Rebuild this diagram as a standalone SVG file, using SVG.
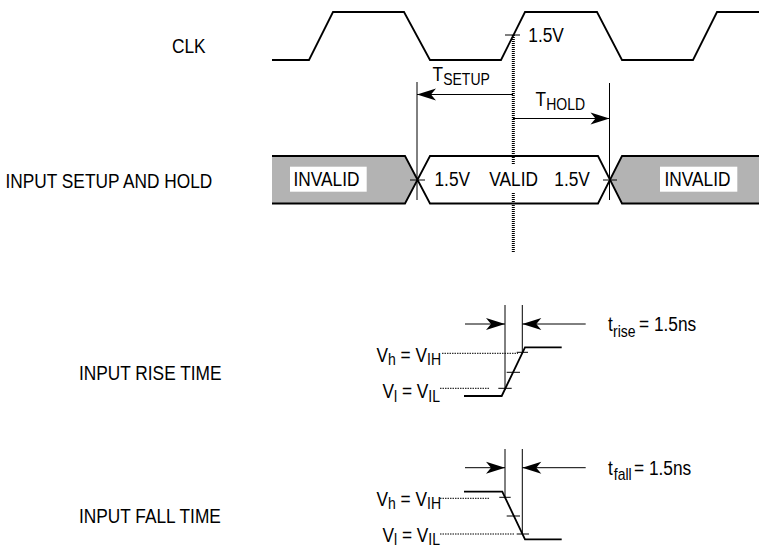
<svg xmlns="http://www.w3.org/2000/svg" width="759" height="549" viewBox="0 0 759 549">
<style>
text{font-family:"Liberation Sans",Arial,sans-serif;font-size:17.3px;fill:#000}
.sub{font-size:14px}
.wave{fill:none;stroke:#000;stroke-width:1.8;stroke-linejoin:miter}
.thin{fill:none;stroke:#000;stroke-width:1}
.dot{fill:none;stroke:#000;stroke-width:1;stroke-dasharray:1.5 1}
.vdot{fill:none;stroke:#000;stroke-width:3;stroke-dasharray:1 1}
.arr{fill:none;stroke:#000;stroke-width:1;marker-end:url(#ah)}
.inv{fill:#b3b3b3}
.bg{fill:#fff}
</style>
<defs>
<marker id="ah" viewBox="-20 -7 21 14" refX="0" refY="0" markerWidth="21" markerHeight="14" markerUnits="userSpaceOnUse" orient="auto">
<path d="M0,0 L-19,-6 L-14,0 L-19,6 Z" fill="#000"/>
</marker>
</defs>
<rect width="759" height="549" fill="#fff"/>

<g id="row-labels">
<text transform="translate(172,53.3) scale(1,1.15)">CLK</text>
<text transform="translate(5.5,188.3) scale(1,1.15)">INPUT SETUP AND HOLD</text>
<text transform="translate(79,380) scale(1,1.15)">INPUT RISE TIME</text>
<text transform="translate(79,523.3) scale(1,1.15)">INPUT FALL TIME</text>
</g>

<g id="clk">
<path class="wave" d="M272,60 H309 L333,12 H404 L430,60 H501 L525,12 H597 L622,60 H693 L717,12 H759"/>
<line class="thin" x1="505" y1="35" x2="520" y2="35"/>
<text transform="translate(528.3,41.7) scale(1,1.15)">1.5V</text>
</g>

<g id="bus">
<polygon class="inv" points="272,156 405,156 417.5,179.75 405,203.5 272,203.5"/>
<polygon class="inv" points="759,156 622,156 610,179.75 622,203.5 759,203.5"/>
<path class="wave" d="M272,156 H405 L430,203.5 H598 L622,156 H759 M272,203.5 H405 L430,156 H598 L622,203.5 H759"/>
<line class="thin" x1="410" y1="180" x2="425" y2="180"/>
<line class="thin" x1="603" y1="180" x2="617" y2="180"/>
</g>

<g id="connectors">
<line class="thin" x1="417" y1="82" x2="417" y2="200"/>
<line class="thin" x1="609.5" y1="83" x2="609.5" y2="200"/>
<line class="vdot" x1="513.3" y1="35" x2="513.3" y2="252"/>
<line class="arr" x1="513" y1="94.5" x2="417" y2="94.5"/>
<line class="arr" x1="513" y1="118.5" x2="609.5" y2="118.5"/>
<line class="thin" x1="505" y1="305" x2="505" y2="390"/>
<line class="thin" x1="522.3" y1="305" x2="522.3" y2="353"/>
<line class="arr" x1="465" y1="324" x2="505" y2="324"/>
<line class="arr" x1="585.7" y1="324" x2="522.3" y2="324"/>
<line class="dot" x1="442" y1="353.3" x2="518" y2="353.3"/>
<line class="dot" x1="440" y1="388.3" x2="490" y2="388.3"/>
<line class="thin" x1="505" y1="449" x2="505" y2="498.3"/>
<line class="thin" x1="522.3" y1="449" x2="522.3" y2="534"/>
<line class="arr" x1="465" y1="467.7" x2="505" y2="467.7"/>
<line class="arr" x1="585.7" y1="467.7" x2="522.3" y2="467.7"/>
<line class="dot" x1="440" y1="498.3" x2="489" y2="498.3"/>
<line class="dot" x1="440" y1="534" x2="514" y2="534"/>
</g>

<g id="bus-labels">
<rect class="bg" x="290" y="166.7" width="76.7" height="25"/>
<text transform="translate(293.5,185.7) scale(1,1.15)">INVALID</text>
<rect class="bg" x="660" y="166.7" width="77.3" height="25"/>
<text transform="translate(664.5,185.7) scale(1,1.15)">INVALID</text>
<rect class="bg" x="487" y="165" width="52" height="27"/>
<text transform="translate(434.5,185.7) scale(1,1.15)">1.5V</text>
<text transform="translate(489.3,185.7) scale(1,1.15)">VALID</text>
<text transform="translate(554.3,185.7) scale(1,1.15)">1.5V</text>
</g>

<g id="t-setup">
<text transform="translate(432.5,81) scale(1,1.15)">T<tspan class="sub" x="10.7" dy="3.5">SETUP</tspan></text>
</g>
<g id="t-hold">
<text transform="translate(535.5,105.7) scale(1,1.15)">T<tspan class="sub" x="10.7" dy="3.7">HOLD</tspan></text>
</g>

<g id="rise">
<path class="wave" d="M464,396 H501.7 L525,347.3 H561.7"/>
<line class="thin" x1="498.3" y1="388.3" x2="511.7" y2="388.3"/>
<line class="thin" x1="506.7" y1="372.3" x2="520" y2="372.3"/>
<line class="thin" x1="516.7" y1="352.3" x2="528" y2="352.3"/>
<text text-anchor="end" transform="translate(441,361.7) scale(1,1.15)">V<tspan class="sub" dy="3">h</tspan><tspan dy="-3"> = V</tspan><tspan class="sub" dy="3">IH</tspan></text>
<text text-anchor="end" transform="translate(440,398.3) scale(1,1.15)">V<tspan class="sub" dy="3">l</tspan><tspan dy="-3"> = V</tspan><tspan class="sub" dy="3">IL</tspan></text>
<text transform="translate(608,330.7) scale(1,1.15)">t<tspan class="sub" x="5.1" dy="5.2">rise</tspan><tspan x="31" dy="-5.2">= 1.5ns</tspan></text>
</g>

<g id="fall">
<path class="wave" d="M464,491.7 H502.3 L525,539.3 H561.7"/>
<line class="thin" x1="499.3" y1="497.3" x2="510.7" y2="497.3"/>
<line class="thin" x1="506.7" y1="516" x2="520" y2="516"/>
<line class="thin" x1="516.7" y1="534" x2="529" y2="534"/>
<text text-anchor="end" transform="translate(441,506) scale(1,1.15)">V<tspan class="sub" dy="3">h</tspan><tspan dy="-3"> = V</tspan><tspan class="sub" dy="3">IH</tspan></text>
<text text-anchor="end" transform="translate(440,541.5) scale(1,1.15)">V<tspan class="sub" dy="3">l</tspan><tspan dy="-3"> = V</tspan><tspan class="sub" dy="3">IL</tspan></text>
<text transform="translate(608,475) scale(1,1.15)">t<tspan class="sub" x="5.8" dy="4.3">fall</tspan><tspan x="26" dy="-4.3">= 1.5ns</tspan></text>
</g>
</svg>
